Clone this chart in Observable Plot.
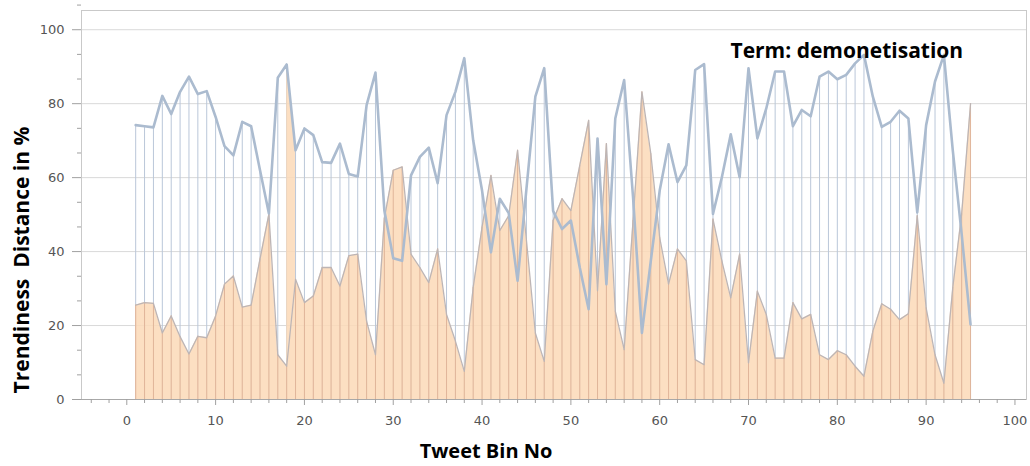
<!DOCTYPE html>
<html>
<head>
<meta charset="utf-8">
<script src="https://cdn.jsdelivr.net/npm/d3@7"></script>
<script src="https://cdn.jsdelivr.net/npm/@observablehq/plot@0.6"></script>
<style>
  html, body { margin: 0; padding: 0; background: #fff; }
  #chart svg { display: block; }
</style>
</head>
<body>
<div id="chart"></div>
<script>
// Tweet bin numbers
const bins = [1,2,3,4,5,6,7,8,9,10,11,12,13,14,15,16,17,18,19,20,
  21,22,23,24,25,26,27,28,29,30,31,32,33,34,35,36,37,38,39,40,
  41,42,43,44,45,46,47,48,49,50,51,52,53,54,55,56,57,58,59,60,
  61,62,63,64,65,66,67,68,69,70,71,72,73,74,75,76,77,78,79,80,
  81,82,83,84,85,86,87,88,89,90,91,92,93,94,95];

// Blue line series (%)
const blueSeries = [74.2,73.9,73.6,82.1,77.2,83.2,87.3,82.6,83.4,76.4,
  68.5,66,75.1,73.9,62,50.3,87,90.6,67.4,73.3,
  71.5,64.2,64,69.2,61,60.3,79.6,88.4,51.1,38.2,
  37.5,60.6,65.6,68.1,58.5,76.9,83.2,92.3,70.1,56.5,
  39.8,54.3,50.4,32.1,57,81.9,89.6,51,46.1,48.4,
  35.7,24.4,70.6,31.2,76,86.4,54.7,18,37.5,56.5,
  69,58.8,63.3,89.1,90.7,50.2,60.1,71.7,60.1,89.6,
  70.6,78.7,88.7,88.7,73.9,78.3,76.6,87.3,88.7,86.6,
  87.8,90.9,93.2,81.9,73.7,75.1,78.1,76,50.6,74.2,
  86,93.2,67.4,44.7,20.3];

// Orange area series (%)
const orangeSeries = [25.5,26.2,26,18,22.6,17,12.3,17.1,16.7,22.6,
  31.2,33.4,25,25.5,38,50.2,12.1,9,32.5,26.2,
  28,35.7,35.7,30.7,38.9,39.3,21.2,12.1,49,62,
  62.9,39.3,35.7,31.6,40.7,23,15.8,7.6,30.3,46.6,
  60.6,45.7,49.7,67.4,43,18,10.3,48.4,54.3,51.1,
  63.3,75.5,29.4,69.2,23.9,13.5,48.4,83.2,66.5,43.8,
  31.2,40.7,37.5,10.8,9.4,48.8,37.5,27.5,39.3,9.9,
  29.3,23,11.2,11.2,26.2,21.8,23,12.1,10.8,13.2,
  12.1,9,6.3,18.5,25.9,24.4,21.6,23.2,49.7,24.8,
  12.1,4.4,30.3,50.2,80];

// Tick values
const xMajorTicks = [0,10,20,30,40,50,60,70,80,90,100];
const xMinorTicks = [-4,-2,2,4,6,8,12,14,16,18,22,24,26,28,32,34,36,38,42,44,46,48,
  52,54,56,58,62,64,66,68,72,74,76,78,82,84,86,88,92,94,96,98];
const yMajorTicks = [0,20,40,60,80,100];
const yMinorTicks = [20/3,40/3,80/3,100/3,140/3,160/3,200/3,220/3,260/3,280/3,320/3];

// Bins where the original chart's area fill reaches up to the blue line
const fillGlitchBins = [18, 19];

const texts = {
  xLabel: "Tweet Bin No",
  yLabel: "Trendiness  Distance in %",
  term: "Term: demonetisation"
};

const data = bins.map((x, i) => ({x, b: blueSeries[i], o: orangeSeries[i]}));
const glitch = data.filter(d => fillGlitchBins.includes(d.x));

const BLUE = "#abbbcf";
const ORANGE_FILL = "#fcd9b7";

const chart = Plot.plot({
  width: 1030,
  height: 466,
  marginLeft: 81,
  marginRight: 4,
  marginTop: 10,
  marginBottom: 67,
  style: {fontFamily: "DejaVu Sans", fontSize: "13px", color: "#555", background: "#fff"},
  x: {domain: [-5.1, 101.3], axis: null},
  y: {domain: [0, 105.2], axis: null},
  marks: [
    Plot.gridY(yMajorTicks.filter(d => d > 0), {stroke: "#d9d9d9", strokeOpacity: 1}),
    Plot.ruleX(data, {x: "x", y1: 0, y2: "b", stroke: "#bac7d9", strokeWidth: 1}),
    Plot.areaY(data, {x: "x", y: "o", fill: ORANGE_FILL, fillOpacity: 0.85}),
    Plot.areaY(glitch, {x: "x", y1: "o", y2: "b", fill: ORANGE_FILL, fillOpacity: 0.85}),
    Plot.ruleX(data, {x: "x", y1: 0, y2: "o", stroke: "#e0b59a", strokeWidth: 1}),
    Plot.line(data, {x: "x", y: "o", stroke: "#bdb5b5", strokeWidth: 1.3}),
    Plot.line(data, {x: "x", y: "b", stroke: BLUE, strokeWidth: 2.6}),
    Plot.frame({stroke: "#c9c9c9"}),
    Plot.ruleY([0], {stroke: "#a8a8a8"}),
    Plot.axisX(xMinorTicks, {tickSize: 4, tickFormat: () => "", stroke: "#a0a0a0", label: null}),
    Plot.axisX(xMajorTicks, {tickSize: 6, tickPadding: 10, stroke: "#a0a0a0", fill: "#555", fontSize: 13, label: null}),
    Plot.axisY(yMinorTicks, {tickSize: 4, tickFormat: () => "", stroke: "#a0a0a0", label: null}),
    Plot.axisY(yMajorTicks, {tickSize: 9, tickPadding: 8, stroke: "#a0a0a0", fill: "#555", fontSize: 13, label: null}),
    Plot.text([texts.xLabel], {frameAnchor: "bottom", dx: -68, dy: 58, fontFamily: "Open Sans", fontWeight: "bold", fontSize: 20, fill: "#000", lineAnchor: "bottom"}),
    Plot.text([texts.term], {frameAnchor: "top-left", dx: 649, dy: 47, fontFamily: "Open Sans", fontWeight: "bold", fontSize: 21, fill: "#000", textAnchor: "start", lineAnchor: "bottom"})
  ]
});

// Rotated y-axis title
d3.select(chart).append("text")
  .attr("transform", "translate(29,260) rotate(-90)")
  .attr("text-anchor", "middle")
  .attr("font-family", "Open Sans")
  .attr("font-weight", "bold")
  .attr("font-size", 21)
  .attr("fill", "#000")
  .text(texts.yLabel);

document.getElementById("chart").appendChild(chart);
</script>
</body>
</html>
